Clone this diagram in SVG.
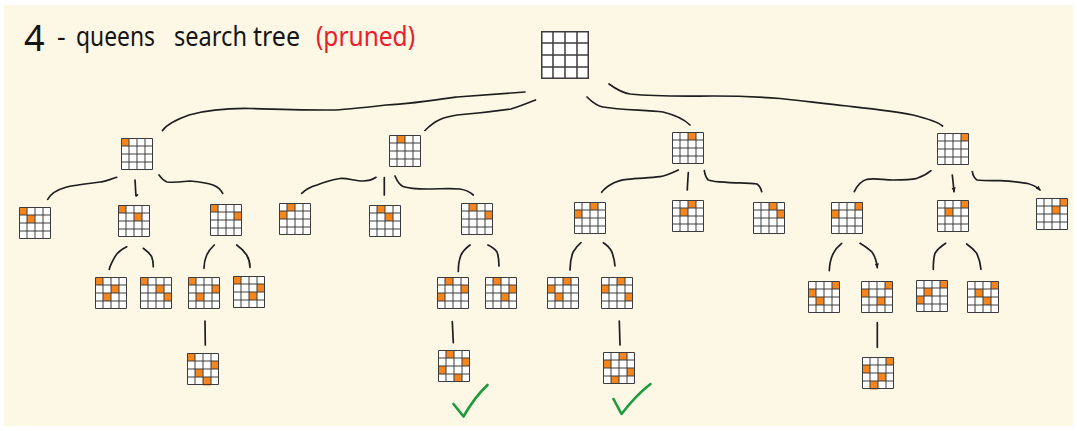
<svg xmlns="http://www.w3.org/2000/svg" xmlns:xlink="http://www.w3.org/1999/xlink" width="1077" height="431" viewBox="0 0 1077 431">
<style>
.c{fill:none;stroke:#1e1e1e;stroke-width:1.7;stroke-linecap:round;stroke-linejoin:round}
.q{fill:#f7851d}
.t{font-family:"Noto Sans","DejaVu Sans",sans-serif;font-size:27px;fill:#151515}
.big{font-size:36px}
.r{fill:#e8202c}
.ok{fill:none;stroke:#1c9a3c;stroke-width:2.6;stroke-linecap:round;stroke-linejoin:round}
</style>
<defs>
<symbol id="bd" viewBox="0 0 32 32" overflow="visible">
<rect x="0" y="0" width="32" height="32" fill="#fff"/>
</symbol>
<symbol id="gr" viewBox="0 0 32 32" overflow="visible">
<path d="M0.5,0.5H31.5V31.5H0.5Z M8,0.5V31.5 M16,0.5V31.5 M24,0.5V31.5 M0.5,8H31.5 M0.5,16H31.5 M0.5,24H31.5" fill="none" stroke="#3c3c3c" stroke-width="1"/>
</symbol>
<marker id="ah" viewBox="0 0 6 6" refX="5" refY="3" markerWidth="5" markerHeight="5" orient="auto" markerUnits="userSpaceOnUse">
<path d="M0,0.5 L6,3 L0,5.5Z" fill="#1e1e1e"/>
</marker>
</defs>
<rect x="0" y="0" width="1077" height="431" fill="#ffffff"/>
<rect x="4" y="5" width="1069" height="421" fill="#fdf7e6"/>

<g id="title">
<text class="t big" x="24" y="51">4</text>
<text class="t" x="57" y="46">-</text>
<text class="t" x="76" y="46" textLength="79" lengthAdjust="spacingAndGlyphs">queens</text>
<text class="t" x="174" y="46" textLength="73" lengthAdjust="spacingAndGlyphs">search</text>
<text class="t" x="253" y="46" textLength="47" lengthAdjust="spacingAndGlyphs">tree</text>
<text class="t r" x="316" y="46" textLength="99" lengthAdjust="spacingAndGlyphs">(pruned)</text>
</g>

<g id="connectors">
<path class="c" d="M525,92 C495,94 470,96 457,97 C430,101 410,104 386,105 C360,108 340,110 332,110 C300,110 270,109 250,108.5 C220,108 200,112 189,115 C175,120 167,124 162.5,130.5"/>
<path class="c" d="M535.5,100 C525,104 518,107 511,109 C490,112 470,114 457,115 C445,117 436,119 425,130.5"/>
<path class="c" d="M587,97 C592,102 597,106 603,107 C620,110 645,110 663,112 C675,115 684,119 690,125"/>
<path class="c" d="M609,84 C616,89 622,93 630,94 C660,97 690,96 713,96 C740,96 760,97 780,98.5 C805,101 825,104 847,106 C875,109 895,111 913,115 C925,118 937,121 942.5,126"/>

<path class="c" d="M116.7,177.3 C108,180 104,182 100,182 C85,184 70,186 66.7,187 C56,190 50,195 47.7,199.3"/>
<path class="c" d="M135,180 C135.5,186 135.5,191 136,196 L137.5,195"/>
<path class="c" d="M159,175 C162,179 164,181 167,182 C178,183 185,181 190,181 C200,182 207,183 213,185 C218,187 221,190 222.7,193.3"/>
<path class="c" d="M376,177.3 C372,180 368,181 363,181 C355,181 348,178 340,178.5 C330,180 322,183 317,185 C310,187 305,190 301.7,193.3"/>
<path class="c" d="M384.3,177.7 L384.3,195"/>
<path class="c" d="M395,176 C397,181 400,185 403,186.5 C410,189 418,189 427,189 C440,189 450,188 460,189 C466,190 470,192 473.3,195"/>

<path class="c" d="M678.3,170 C672,173 666,176 660,176.7 C650,178 640,178 627,179.3 C620,180 617,181 613,183.3 C608,186 604,189 601.7,192.3"/>
<path class="c" d="M688.3,172.7 C688,178 687.5,184 687.3,190"/>
<path class="c" d="M704.3,170.7 C705,175 706,178 708.3,180 C714,182 720,182 727,182.3 C738,183 748,183 757,184 C760,186 761,189 761.7,191.7"/>

<path class="c" d="M931,170.7 C926,175 921,177 917,178.3 C910,180 900,180 893,180 C884,180 875,178 867,179.3 C861,181 857,186 854.3,191.7"/>
<path class="c" d="M952.3,175 C953,181 953.5,186 954,191.7" marker-end="url(#ah)"/>
<path class="c" d="M972.3,171.7 C973,176 974,178 977,180 C985,181 993,180.5 1000,180.7 C1010,181 1019,182 1027,183.3 C1033,185 1037,187 1040,190" marker-end="url(#ah)"/>

<path class="c" d="M126.7,246.7 C120,250 117,253 115,256.7 C112,262 110,266 109.3,269.3"/>
<path class="c" d="M143.3,248.3 C147,251 150,254 151.7,256.7 C153,260 153.3,263 153.3,266.7"/>
<path class="c" d="M214.3,245 C210,249 208,252 206.7,255 C205,259 204,264 204,268.3"/>
<path class="c" d="M236.7,245 C241,248 244,251 246.7,255 C249,259 250,263 250,267.3"/>
<path class="c" d="M205,321 L205.3,345"/>

<path class="c" d="M470,245 C466,248 463,251 461,255 C459,260 458.3,266 458.3,271.5"/>
<path class="c" d="M488,245 C492,247 495,249 497,252 C498.5,256 499,261 499,266"/>
<path class="c" d="M452.3,321.7 L453.3,342.7"/>

<path class="c" d="M581,242.7 C577,246 575,249 573.3,251.7 C571,257 570,263 570,270"/>
<path class="c" d="M603.3,242.7 C607,245 610,248 611.7,251.7 C613.5,256 614.5,261 615,266"/>
<path class="c" d="M619.3,321 L620,345"/>

<path class="c" d="M841.7,243.3 C837,247 835,250 833.3,253.3 C830.5,259 829.5,265 829.3,270.7"/>
<path class="c" d="M860,243.3 C865,246 868,248.5 871.7,251.7 C875,256 876.5,261 877.3,267.7" marker-end="url(#ah)"/>
<path class="c" d="M945.7,243.3 C940,247 937,250 935,253.3 C933.5,258 933.3,264 933.3,269.3"/>
<path class="c" d="M966.7,244 C971,247 974,250 976.7,253.3 C979,258 980.5,264 981,269.3"/>
<path class="c" d="M877.3,322.7 L877.3,347.3"/>
</g>

<g id="root"><use href="#bd" x="541" y="31" width="48" height="48"/><use href="#gr" x="541" y="31" width="48" height="48"/></g>

<g id="n-A"><use href="#bd" x="121" y="138" width="32" height="32"/><rect class="q" x="121.5" y="138.5" width="7.5" height="7.5"/><use href="#gr" x="121" y="138" width="32" height="32"/></g>
<g id="n-B"><use href="#bd" x="389" y="135" width="32" height="32"/><rect class="q" x="397" y="135.5" width="8" height="7.5"/><use href="#gr" x="389" y="135" width="32" height="32"/></g>
<g id="n-C"><use href="#bd" x="672" y="132" width="32" height="32"/><rect class="q" x="688" y="132.5" width="8" height="7.5"/><use href="#gr" x="672" y="132" width="32" height="32"/></g>
<g id="n-D"><use href="#bd" x="937" y="133" width="32" height="32"/><rect class="q" x="961" y="133.5" width="7.5" height="7.5"/><use href="#gr" x="937" y="133" width="32" height="32"/></g>

<g id="n-A1"><use href="#bd" x="19" y="207" width="32" height="32"/><rect class="q" x="19.5" y="207.5" width="7.5" height="7.5"/><rect class="q" x="27" y="215" width="8" height="8"/><use href="#gr" x="19" y="207" width="32" height="32"/></g>
<g id="n-A2"><use href="#bd" x="118" y="205" width="32" height="32"/><rect class="q" x="118.5" y="205.5" width="7.5" height="7.5"/><rect class="q" x="134" y="213" width="8" height="8"/><use href="#gr" x="118" y="205" width="32" height="32"/></g>
<g id="n-A3"><use href="#bd" x="210" y="204" width="32" height="32"/><rect class="q" x="210.5" y="204.5" width="7.5" height="7.5"/><rect class="q" x="234" y="212" width="7.5" height="8"/><use href="#gr" x="210" y="204" width="32" height="32"/></g>
<g id="n-B1"><use href="#bd" x="279" y="203" width="32" height="32"/><rect class="q" x="287" y="203.5" width="8" height="7.5"/><rect class="q" x="279.5" y="211" width="7.5" height="8"/><use href="#gr" x="279" y="203" width="32" height="32"/></g>
<g id="n-B2"><use href="#bd" x="369" y="205" width="32" height="32"/><rect class="q" x="377" y="205.5" width="8" height="7.5"/><rect class="q" x="385" y="213" width="8" height="8"/><use href="#gr" x="369" y="205" width="32" height="32"/></g>
<g id="n-B3"><use href="#bd" x="461" y="203" width="32" height="32"/><rect class="q" x="469" y="203.5" width="8" height="7.5"/><rect class="q" x="485" y="211" width="7.5" height="8"/><use href="#gr" x="461" y="203" width="32" height="32"/></g>
<g id="n-C1"><use href="#bd" x="574" y="202" width="32" height="32"/><rect class="q" x="590" y="202.5" width="8" height="7.5"/><rect class="q" x="574.5" y="210" width="7.5" height="8"/><use href="#gr" x="574" y="202" width="32" height="32"/></g>
<g id="n-C2"><use href="#bd" x="672" y="200" width="32" height="32"/><rect class="q" x="688" y="200.5" width="8" height="7.5"/><rect class="q" x="680" y="208" width="8" height="8"/><use href="#gr" x="672" y="200" width="32" height="32"/></g>
<g id="n-C3"><use href="#bd" x="753" y="202" width="32" height="32"/><rect class="q" x="769" y="202.5" width="8" height="7.5"/><rect class="q" x="777" y="210" width="7.5" height="8"/><use href="#gr" x="753" y="202" width="32" height="32"/></g>
<g id="n-D1"><use href="#bd" x="831" y="202" width="32" height="32"/><rect class="q" x="855" y="202.5" width="7.5" height="7.5"/><rect class="q" x="831.5" y="210" width="7.5" height="8"/><use href="#gr" x="831" y="202" width="32" height="32"/></g>
<g id="n-D2"><use href="#bd" x="937" y="200" width="32" height="32"/><rect class="q" x="961" y="200.5" width="7.5" height="7.5"/><rect class="q" x="945" y="208" width="8" height="8"/><use href="#gr" x="937" y="200" width="32" height="32"/></g>
<g id="n-D3"><use href="#bd" x="1036" y="198" width="32" height="32"/><rect class="q" x="1060" y="198.5" width="7.5" height="7.5"/><rect class="q" x="1052" y="206" width="8" height="8"/><use href="#gr" x="1036" y="198" width="32" height="32"/></g>

<g id="n-A2a"><use href="#bd" x="95" y="277" width="32" height="32"/><rect class="q" x="95.5" y="277.5" width="7.5" height="7.5"/><rect class="q" x="111" y="285" width="8" height="8"/><rect class="q" x="103" y="293" width="8" height="8"/><use href="#gr" x="95" y="277" width="32" height="32"/></g>
<g id="n-A2b"><use href="#bd" x="140" y="277" width="32" height="32"/><rect class="q" x="140.5" y="277.5" width="7.5" height="7.5"/><rect class="q" x="156" y="285" width="8" height="8"/><rect class="q" x="164" y="293" width="7.5" height="8"/><use href="#gr" x="140" y="277" width="32" height="32"/></g>
<g id="n-A3a"><use href="#bd" x="188" y="277" width="32" height="32"/><rect class="q" x="188.5" y="277.5" width="7.5" height="7.5"/><rect class="q" x="212" y="285" width="7.5" height="8"/><rect class="q" x="196" y="293" width="8" height="8"/><use href="#gr" x="188" y="277" width="32" height="32"/></g>
<g id="n-A3b"><use href="#bd" x="233" y="276" width="32" height="32"/><rect class="q" x="233.5" y="276.5" width="7.5" height="7.5"/><rect class="q" x="257" y="284" width="7.5" height="8"/><rect class="q" x="249" y="292" width="8" height="8"/><use href="#gr" x="233" y="276" width="32" height="32"/></g>
<g id="n-A3a1"><use href="#bd" x="187" y="353" width="32" height="32"/><rect class="q" x="187.5" y="353.5" width="7.5" height="7.5"/><rect class="q" x="211" y="361" width="7.5" height="8"/><rect class="q" x="195" y="369" width="8" height="8"/><rect class="q" x="203" y="377" width="8" height="8.5"/><use href="#gr" x="187" y="353" width="32" height="32"/></g>

<g id="n-B3a"><use href="#bd" x="437" y="277" width="32" height="32"/><rect class="q" x="445" y="277.5" width="8" height="7.5"/><rect class="q" x="461" y="285" width="7.5" height="8"/><rect class="q" x="437.5" y="293" width="7.5" height="8"/><use href="#gr" x="437" y="277" width="32" height="32"/></g>
<g id="n-B3b"><use href="#bd" x="485" y="277" width="32" height="32"/><rect class="q" x="493" y="277.5" width="8" height="7.5"/><rect class="q" x="509" y="285" width="7.5" height="8"/><rect class="q" x="501" y="293" width="8" height="8"/><use href="#gr" x="485" y="277" width="32" height="32"/></g>
<g id="n-B3a1"><use href="#bd" x="438" y="350" width="32" height="32"/><rect class="q" x="446" y="350.5" width="8" height="7.5"/><rect class="q" x="462" y="358" width="7.5" height="8"/><rect class="q" x="438.5" y="366" width="7.5" height="8"/><rect class="q" x="454" y="374" width="8" height="7.5"/><use href="#gr" x="438" y="350" width="32" height="32"/></g>

<g id="n-C1a"><use href="#bd" x="547" y="277" width="32" height="32"/><rect class="q" x="563" y="277.5" width="8" height="7.5"/><rect class="q" x="547.5" y="285" width="7.5" height="8"/><rect class="q" x="555" y="293" width="8" height="8"/><use href="#gr" x="547" y="277" width="32" height="32"/></g>
<g id="n-C1b"><use href="#bd" x="601" y="277" width="32" height="32"/><rect class="q" x="617" y="277.5" width="8" height="7.5"/><rect class="q" x="601.5" y="285" width="7.5" height="8"/><rect class="q" x="625" y="293" width="7.5" height="8"/><use href="#gr" x="601" y="277" width="32" height="32"/></g>
<g id="n-C1b1"><use href="#bd" x="603" y="352" width="32" height="32"/><rect class="q" x="619" y="352.5" width="8" height="7.5"/><rect class="q" x="603.5" y="360" width="7.5" height="8"/><rect class="q" x="627" y="368" width="7.5" height="8"/><rect class="q" x="611" y="376" width="8" height="7.5"/><use href="#gr" x="603" y="352" width="32" height="32"/></g>

<g id="n-D1a"><use href="#bd" x="808" y="281" width="32" height="32"/><rect class="q" x="832" y="281.5" width="7.5" height="7.5"/><rect class="q" x="808.5" y="289" width="7.5" height="8"/><rect class="q" x="816" y="297" width="8" height="8"/><use href="#gr" x="808" y="281" width="32" height="32"/></g>
<g id="n-D1b"><use href="#bd" x="861" y="281" width="32" height="32"/><rect class="q" x="885" y="281.5" width="7.5" height="7.5"/><rect class="q" x="861.5" y="289" width="7.5" height="8"/><rect class="q" x="877" y="297" width="8" height="8"/><use href="#gr" x="861" y="281" width="32" height="32"/></g>
<g id="n-D1b1"><use href="#bd" x="862" y="357" width="32" height="32"/><rect class="q" x="886" y="357.5" width="7.5" height="7.5"/><rect class="q" x="862.5" y="365" width="7.5" height="8"/><rect class="q" x="878" y="373" width="8" height="8"/><rect class="q" x="870" y="381" width="8" height="8.5"/><use href="#gr" x="862" y="357" width="32" height="32"/></g>
<g id="n-D2a"><use href="#bd" x="916" y="280" width="32" height="32"/><rect class="q" x="940" y="280.5" width="7.5" height="7.5"/><rect class="q" x="924" y="288" width="8" height="8"/><rect class="q" x="916.5" y="296" width="7.5" height="8"/><use href="#gr" x="916" y="280" width="32" height="32"/></g>
<g id="n-D2b"><use href="#bd" x="967" y="281" width="32" height="32"/><rect class="q" x="991" y="281.5" width="7.5" height="7.5"/><rect class="q" x="975" y="289" width="8" height="8"/><rect class="q" x="983" y="297" width="8" height="8"/><use href="#gr" x="967" y="281" width="32" height="32"/></g>

<g id="checks">
<path class="ok" d="M453.5,404 L463.5,416.5 C470,405 478,394 487.5,385"/>
<path class="ok" d="M613.5,399 L621.5,414 C630,403 640,392 650.5,384"/>
</g>
</svg>
